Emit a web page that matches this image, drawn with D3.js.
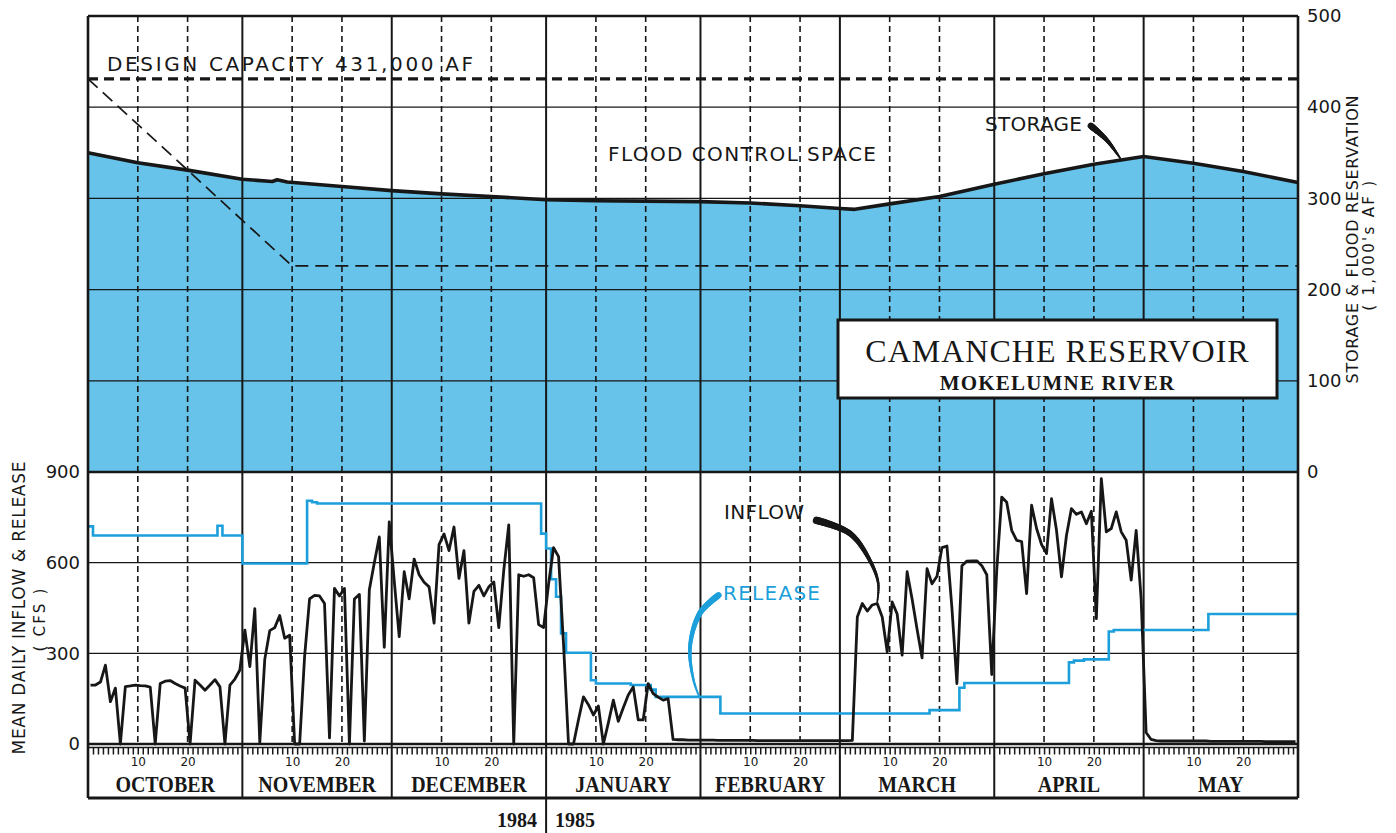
<!DOCTYPE html>
<html>
<head>
<meta charset="utf-8">
<script src="https://cdn.jsdelivr.net/npm/d3@7"></script>
<style>
  html, body { margin: 0; padding: 0; background: #ffffff; }
  svg { display: block; }
</style>
</head>
<body>
<svg id="chart" width="1396" height="833"></svg>
<script>
// ---------- data ----------
const monthNames = ["OCTOBER", "NOVEMBER", "DECEMBER", "JANUARY", "FEBRUARY", "MARCH", "APRIL", "MAY"];
const monthYear  = [1984, 1984, 1984, 1985, 1985, 1985, 1985, 1985];
const monthIndex = [9, 10, 11, 0, 1, 2, 3, 4];   // zero-based calendar month
const dayLabels  = [10, 20];

// mean daily inflow, cfs (one value per day)
const inflowOct = [195,195,205,261,140,185,0,190,192,195,193,192,188,0,200,208,210,200,192,185,0,211,195,178,195,213,189,0,195,215,245];
const inflowNov = [377,256,448,5,280,375,385,425,350,360,0,0,290,480,492,490,465,20,515,490,515,0,480,495,10,510,600,685,320,735];
const inflowDec = [540,355,570,480,612,560,535,520,400,660,695,640,718,548,640,400,505,525,490,520,536,385,575,725,0,560,555,560,550,395,385];
const inflowJan = [530,650,620,330,0,0,80,156,130,96,126,0,70,145,75,120,162,189,80,80,200,167,155,145,150,15,14,14,13,13,13];
const inflowFeb = [13,13,13,12,12,12,12,12,12,12,12,11,11,11,11,11,11,11,11,11,11,11,11,11,11,11,11,11];
const inflowMar = [11,11,12,420,465,440,460,465,420,305,470,430,294,570,480,380,285,580,530,555,650,655,450,200,590,605,606,606,590,560,230];
const inflowApr = [575,817,800,707,674,670,498,790,713,660,630,812,707,553,690,779,760,768,729,770,415,878,702,713,768,702,674,542,707,480];
const inflowMay = [38,15,11,10,10,10,10,10,10,10,10,10,10,9,9,9,9,9,9,9,9,9,9,9,8,8,8,8,8,8,8];
const inflowByMonth = [inflowOct, inflowNov, inflowDec, inflowJan, inflowFeb, inflowMar, inflowApr, inflowMay];

// release, cfs: value holds from the given date onward
const releaseFrom = ["1984-10-01","1984-10-02","1984-10-27","1984-10-28","1984-11-01","1984-11-14","1984-11-15","1984-11-16",
                     "1984-12-31","1985-01-01","1985-01-02","1985-01-03","1985-01-04","1985-01-05","1985-01-10","1985-01-11",
                     "1985-01-18","1985-01-22","1985-01-23","1985-02-05","1985-03-19","1985-03-25","1985-03-26","1985-04-16",
                     "1985-04-17","1985-04-19","1985-04-24","1985-04-25","1985-05-14","1985-06-01"];
const releaseCfs  = [720,690,722,690,597,805,800,796,
                     696,647,545,487,366,302,211,200,
                     195,180,156,101,112,186,202,270,
                     276,280,372,377,430,430];

// storage, 1,000's AF (read at 00:00 of each date)
const storageDates = ["1984-10-01","1984-10-11","1984-10-21","1984-11-01","1984-11-07","1984-11-08","1984-11-10","1984-11-21",
                      "1984-12-01","1984-12-11","1984-12-21","1985-01-01","1985-01-11","1985-01-21","1985-02-01","1985-02-11",
                      "1985-02-21","1985-03-01","1985-03-04","1985-03-11","1985-03-21","1985-04-01","1985-04-11","1985-04-21",
                      "1985-05-01","1985-05-11","1985-05-21","1985-06-01"];
const storageKaf   = [350,339,331,321,318.5,320.5,318,313,
                      308.5,305,302,298.5,297.5,297,296.5,295,
                      292,289,288,294,302,315.5,327,337.5,
                      346,338.5,329.5,317.5];

// flood control reservation, 1,000's AF
const floodResDates = ["1984-10-01","1984-11-11","1985-06-01"];
const floodResKaf   = [431, 226, 226];
const designCapacity = 431;

const storageTicks = [0, 100, 200, 300, 400, 500];
const flowTicks    = [0, 300, 600, 900];

// ---------- layout ----------
const svg = d3.select("#chart");
const L = 88, R = 1298, T = 16, MID = 472, B = 744;
const BOX_TOP = 747.5, BOX_BOT = 798;
const INK = "#171717";
const FILL = "#67c3e9";
const BLUE = "#1c9fdb";
const LETTER = "DejaVu Sans, sans-serif";
const SERIF = "Liberation Serif, Times New Roman, serif";

const parse = d3.utcParse("%Y-%m-%d");
const seasonStart = new Date(Date.UTC(1984, 9, 1));
const seasonEnd   = new Date(Date.UTC(1985, 5, 1));

const x  = d3.scaleUtc().domain([seasonStart, seasonEnd]).range([L, R]);
const yS = d3.scaleLinear().domain([0, 500]).range([MID, T]);
const yF = d3.scaleLinear().domain([0, 900]).range([B, MID]);

const monthStarts = monthIndex.map((m, i) => new Date(Date.UTC(monthYear[i], m, 1)));
const monthEnds = monthStarts.slice(1).concat([seasonEnd]);

const inflow = [];
inflowByMonth.forEach((vals, i) => {
  vals.forEach((v, k) => inflow.push({ date: new Date(Date.UTC(monthYear[i], monthIndex[i], k + 1, 12)), cfs: v }));
});
const release = releaseFrom.map((d, i) => ({ date: parse(d), cfs: releaseCfs[i] }));
const storage = storageDates.map((d, i) => ({ date: parse(d), kaf: storageKaf[i] }));
const floodRes = floodResDates.map((d, i) => ({ date: parse(d), kaf: floodResKaf[i] }));

// ---------- storage fill ----------
svg.append("path")
  .datum(storage)
  .attr("fill", FILL)
  .attr("d", d3.area().x(d => x(d.date)).y0(yS(0)).y1(d => yS(d.kaf)));

// ---------- grid ----------
const grid = svg.append("g");
grid.selectAll("line.hs").data(storageTicks.filter(v => v > 0 && v < 500)).join("line")
  .attr("x1", L).attr("x2", R).attr("y1", d => yS(d)).attr("y2", d => yS(d))
  .attr("stroke", INK).attr("stroke-width", 1.3);
grid.selectAll("line.hf").data(flowTicks.filter(v => v > 0 && v < 900)).join("line")
  .attr("x1", L).attr("x2", R).attr("y1", d => yF(d)).attr("y2", d => yF(d))
  .attr("stroke", INK).attr("stroke-width", 1.3);

// dashed lines at the 10th and 20th of every month
const dashDates = [];
monthStarts.forEach((s, i) => dayLabels.forEach(d =>
  dashDates.push({ date: new Date(Date.UTC(monthYear[i], monthIndex[i], d + 1)), label: d })));
grid.selectAll("line.vd").data(dashDates).join("line")
  .attr("x1", d => x(d.date)).attr("x2", d => x(d.date))
  .attr("y1", T).attr("y2", B)
  .attr("stroke", INK).attr("stroke-width", 1.6).attr("stroke-dasharray", "6,4");

// month boundaries
grid.selectAll("line.vm").data(monthStarts.slice(1)).join("line")
  .attr("x1", d => x(d)).attr("x2", d => x(d))
  .attr("y1", T).attr("y2", BOX_BOT)
  .attr("stroke", INK).attr("stroke-width", 2);

// year separator below the month strip
svg.append("line")
  .attr("x1", x(monthStarts[3])).attr("x2", x(monthStarts[3]))
  .attr("y1", BOX_BOT).attr("y2", 833)
  .attr("stroke", INK).attr("stroke-width", 2);

// ---------- reference lines ----------
svg.append("line")
  .attr("x1", L).attr("x2", R).attr("y1", yS(designCapacity)).attr("y2", yS(designCapacity))
  .attr("stroke", INK).attr("stroke-width", 3.2).attr("stroke-dasharray", "10,6");

svg.append("path")
  .datum(floodRes)
  .attr("fill", "none").attr("stroke", INK).attr("stroke-width", 1.7).attr("stroke-dasharray", "13,7")
  .attr("d", d3.line().x(d => x(d.date)).y(d => yS(d.kaf)));

// ---------- storage line ----------
svg.append("path")
  .datum(storage)
  .attr("fill", "none").attr("stroke", INK).attr("stroke-width", 3.6).attr("stroke-linejoin", "round")
  .attr("d", d3.line().x(d => x(d.date)).y(d => yS(d.kaf)));

// ---------- release & inflow ----------
svg.append("path")
  .datum(release)
  .attr("fill", "none").attr("stroke", BLUE).attr("stroke-width", 2.6)
  .attr("d", d3.line().curve(d3.curveStepAfter).x(d => x(d.date)).y(d => yF(d.cfs)));

svg.append("path")
  .datum(inflow)
  .attr("fill", "none").attr("stroke", INK).attr("stroke-width", 2.8).attr("stroke-linejoin", "round")
  .attr("d", d3.line().x(d => x(d.date)).y(d => yF(d.cfs)));

// ---------- frame ----------
const frame = svg.append("g").attr("stroke", INK).attr("fill", "none");
frame.append("line").attr("x1", L).attr("x2", R).attr("y1", T).attr("y2", T).attr("stroke-width", 2.6);
frame.append("line").attr("x1", L).attr("x2", R).attr("y1", MID).attr("y2", MID).attr("stroke-width", 2.4);
frame.append("line").attr("x1", L).attr("x2", R).attr("y1", B).attr("y2", B).attr("stroke-width", 2.4);
frame.append("line").attr("x1", L).attr("x2", R).attr("y1", BOX_TOP).attr("y2", BOX_TOP).attr("stroke-width", 1.6);
frame.append("line").attr("x1", L).attr("x2", R).attr("y1", BOX_BOT).attr("y2", BOX_BOT).attr("stroke-width", 2.8);
frame.append("line").attr("x1", L).attr("x2", L).attr("y1", T).attr("y2", BOX_BOT).attr("stroke-width", 2.6);
frame.append("line").attr("x1", R).attr("x2", R).attr("y1", T).attr("y2", BOX_BOT).attr("stroke-width", 2.6);

// ---------- axes ----------
// daily ticks along the month strip
const dayTicks = d3.utcDay.range(seasonStart, seasonEnd).filter(d => d.getUTCDate() !== 1);
svg.append("g")
  .attr("transform", `translate(0,${BOX_TOP})`)
  .call(d3.axisBottom(x).tickValues(dayTicks).tickSize(7).tickFormat(""))
  .call(g => g.select(".domain").remove())
  .call(g => g.selectAll(".tick line").attr("stroke", INK).attr("stroke-width", 1.5));

// "10" / "20" labels
svg.append("g")
  .attr("transform", `translate(0,${BOX_TOP})`)
  .call(d3.axisBottom(x).tickValues(dashDates.map(d => d.date)).tickSize(0).tickPadding(10)
        .tickFormat(d => String(d.getUTCDate() - 1)))
  .call(g => g.select(".domain").remove())
  .call(g => g.selectAll(".tick text").attr("font-family", LETTER).attr("font-size", 12).attr("fill", INK));

// right storage axis
svg.append("g")
  .attr("transform", `translate(${R},0)`)
  .call(d3.axisRight(yS).tickValues(storageTicks).tickSize(0).tickPadding(9).tickFormat(d3.format("d")))
  .call(g => g.select(".domain").remove())
  .call(g => g.selectAll(".tick text").attr("font-family", LETTER).attr("font-size", 18).attr("fill", INK));

// left flow axis
svg.append("g")
  .attr("transform", `translate(${L},0)`)
  .call(d3.axisLeft(yF).tickValues(flowTicks).tickSize(0).tickPadding(8).tickFormat(d3.format("d")))
  .call(g => g.select(".domain").remove())
  .call(g => g.selectAll(".tick text").attr("font-family", LETTER).attr("font-size", 18).attr("fill", INK));

// month names
svg.append("g").selectAll("text").data(monthNames).join("text")
  .attr("transform", (d, i) => `translate(${(x(monthStarts[i]) + x(monthEnds[i])) / 2},${792})scale(1,1.12)`)
  .attr("text-anchor", "middle")
  .attr("font-family", SERIF).attr("font-weight", "bold").attr("font-size", 20)
  .attr("fill", INK)
  .text(d => d);

// years
svg.append("text").attr("x", x(monthStarts[3]) - 9).attr("y", 827)
  .attr("text-anchor", "end").attr("font-family", SERIF).attr("font-weight", "bold")
  .attr("font-size", 20).attr("fill", INK).text("1984");
svg.append("text").attr("x", x(monthStarts[3]) + 9).attr("y", 827)
  .attr("text-anchor", "start").attr("font-family", SERIF).attr("font-weight", "bold")
  .attr("font-size", 20).attr("fill", INK).text("1985");

// axis titles
svg.append("text")
  .attr("transform", `translate(1358,${yS(255)})rotate(-90)`)
  .attr("text-anchor", "middle").attr("font-family", LETTER).attr("font-size", 16).attr("fill", INK)
  .attr("textLength", 288).attr("lengthAdjust", "spacing")
  .text("STORAGE & FLOOD RESERVATION");
svg.append("text")
  .attr("transform", `translate(1374,${yS(248)})rotate(-90)`)
  .attr("text-anchor", "middle").attr("font-family", LETTER).attr("font-size", 15).attr("fill", INK)
  .attr("textLength", 130).attr("lengthAdjust", "spacing")
  .text("( 1,000's AF )");

svg.append("text")
  .attr("transform", `translate(25,${yF(450)})rotate(-90)`)
  .attr("text-anchor", "middle").attr("font-family", LETTER).attr("font-size", 17).attr("fill", INK)
  .attr("textLength", 293).attr("lengthAdjust", "spacing")
  .text("MEAN DAILY INFLOW & RELEASE");
svg.append("text")
  .attr("transform", `translate(45,${yF(410)})rotate(-90)`)
  .attr("text-anchor", "middle").attr("font-family", LETTER).attr("font-size", 15).attr("fill", INK)
  .attr("textLength", 63).attr("lengthAdjust", "spacing")
  .text("( CFS )");

// ---------- annotations ----------
function label(txt, xPos, yPos, len, color) {
  svg.append("text").attr("x", xPos).attr("y", yPos)
    .attr("font-family", LETTER).attr("font-size", 20).attr("fill", color || INK)
    .attr("textLength", len).attr("lengthAdjust", "spacing")
    .text(txt);
}
label("DESIGN CAPACITY 431,000 AF", 107, 71, 366);
label("FLOOD CONTROL SPACE", 608, 161, 268);
label("STORAGE", 985, 131, 97);
label("INFLOW", 724, 519, 80);
label("RELEASE", 723, 600, 97, BLUE);

// tapered leader from a label to its line
const dayMs = 864e5;
function seasonDay(k) { return new Date(seasonStart.getTime() + k * dayMs); }
function leader(pts, color, w0, w1) {
  const tmp = svg.append("path")
    .attr("d", d3.line().curve(d3.curveCatmullRom.alpha(0.5))(pts))
    .attr("fill", "none").attr("stroke", "none");
  const node = tmp.node();
  const len = node.getTotalLength();
  const n = 48;
  const g = svg.append("g").attr("stroke", color).attr("stroke-linecap", "round");
  for (let i = 0; i < n; i++) {
    const a = node.getPointAtLength(len * i / n);
    const b = node.getPointAtLength(len * (i + 1) / n);
    g.append("line").attr("x1", a.x).attr("y1", a.y).attr("x2", b.x).attr("y2", b.y)
      .attr("stroke-width", w0 + (w1 - w0) * (i + 0.5) / n);
  }
  tmp.remove();
}
leader([[201.4, 379.6], [204.6, 364], [207.3, 344]].map(([k, v]) => [x(seasonDay(k)), yS(v)]), INK, 6.5, 1.6);
leader([[146.3, 740], [153.0, 697], [157.0, 608], [158.7, 532], [158.5, 470]].map(([k, v]) => [x(seasonDay(k)), yF(v)]), INK, 7.5, 1.6);
leader([[126.6, 492], [122.9, 433], [120.9, 322], [121.6, 212], [122.8, 154]].map(([k, v]) => [x(seasonDay(k)), yF(v)]), BLUE, 6.5, 1.6);

// ---------- title box ----------
const tb = svg.append("g");
tb.append("rect").attr("x", 838).attr("y", 320).attr("width", 439).attr("height", 78)
  .attr("fill", "#ffffff").attr("stroke", INK).attr("stroke-width", 3);
tb.append("text").attr("x", 1057.5).attr("y", 362).attr("text-anchor", "middle")
  .attr("font-family", SERIF).attr("font-size", 32).attr("letter-spacing", 1).attr("fill", INK)
  .text("CAMANCHE RESERVOIR");
tb.append("text").attr("x", 1057.5).attr("y", 390).attr("text-anchor", "middle")
  .attr("font-family", SERIF).attr("font-weight", "bold").attr("font-size", 21).attr("letter-spacing", 1.2).attr("fill", INK)
  .text("MOKELUMNE RIVER");
</script>
</body>
</html>
